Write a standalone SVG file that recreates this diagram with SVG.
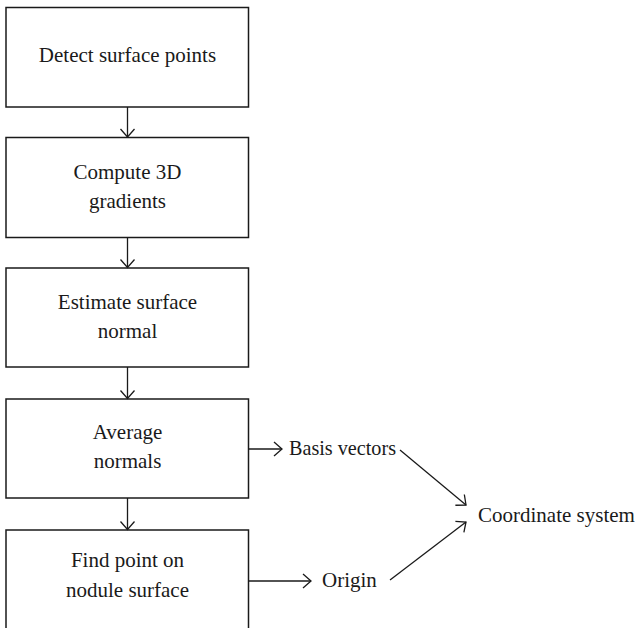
<svg xmlns="http://www.w3.org/2000/svg" width="638" height="628" viewBox="0 0 638 628">
<style>
.box{fill:#fff;stroke:#1a1a1a;stroke-width:1.5}
.t{font-family:"Liberation Serif",serif;font-size:21px;fill:#1a1a1a}
.c{text-anchor:middle}
.ln{fill:none;stroke:#1a1a1a;stroke-width:1.3}
</style>
<defs>
<marker id="ah" markerUnits="userSpaceOnUse" markerWidth="12" markerHeight="16" viewBox="-10 -8 12 16" refX="0" refY="0" orient="auto">
<path d="M-8,-7 L0,0 L-8,7" fill="none" stroke="#1a1a1a" stroke-width="1.3"/>
</marker>
</defs>
<rect width="638" height="628" fill="#fff"/>
<g id="n1"><rect class="box" x="6" y="7.5" width="242.5" height="99.5"/><text class="t c" x="127.5" y="62">Detect surface points</text></g>
<g id="n2"><rect class="box" x="6" y="137.5" width="242.5" height="100"/><text class="t c" x="127.5" y="178.5">Compute 3D</text><text class="t c" x="127.5" y="208">gradients</text></g>
<g id="n3"><rect class="box" x="6" y="268" width="242.5" height="99"/><text class="t c" x="127.5" y="309">Estimate surface</text><text class="t c" x="127.5" y="338">normal</text></g>
<g id="n4"><rect class="box" x="6" y="399" width="242.5" height="99"/><text class="t c" x="127.5" y="438.5">Average</text><text class="t c" x="127.5" y="468">normals</text></g>
<g id="n5"><rect class="box" x="6" y="530" width="242.5" height="110"/><text class="t c" x="127.5" y="567">Find point on</text><text class="t c" x="127.5" y="596.5">nodule surface</text></g>
<g id="n6"><text class="t" x="289" y="455" textLength="107" lengthAdjust="spacingAndGlyphs">Basis vectors</text></g>
<g id="n7"><text class="t" x="322" y="587">Origin</text></g>
<g id="n8"><text class="t" x="478" y="522">Coordinate system</text></g>
<g id="connectors">
<line class="ln" x1="127.5" y1="107" x2="127.5" y2="137" marker-end="url(#ah)"/>
<line class="ln" x1="127.5" y1="237.5" x2="127.5" y2="267.5" marker-end="url(#ah)"/>
<line class="ln" x1="127.5" y1="367" x2="127.5" y2="398.5" marker-end="url(#ah)"/>
<line class="ln" x1="127.5" y1="498" x2="127.5" y2="529.5" marker-end="url(#ah)"/>
<line class="ln" x1="248.5" y1="449" x2="282" y2="449" marker-end="url(#ah)"/>
<line class="ln" x1="248.5" y1="581" x2="311" y2="581" marker-end="url(#ah)"/>
<line class="ln" x1="400" y1="450" x2="466" y2="505" marker-end="url(#ah)"/>
<line class="ln" x1="390" y1="580" x2="466" y2="522" marker-end="url(#ah)"/>
</g>
</svg>
